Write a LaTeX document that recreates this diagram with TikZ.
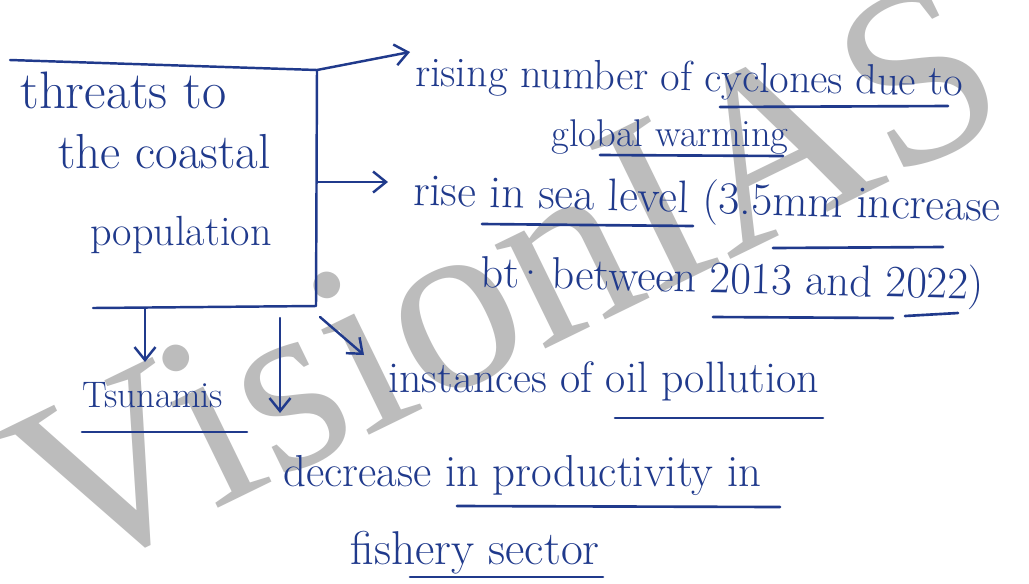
\documentclass[tikz,border=0pt]{standalone}
\usepackage{fontspec}
\newfontfamily\wmfont{Liberation Serif}
\usetikzlibrary{arrows.meta}
\definecolor{ink}{RGB}{32,58,140}
\definecolor{wmgray}{RGB}{188,188,188}
\tikzset{
  ink/.style={draw=ink, line width=1.4pt, line cap=round, line join=round},
  arr/.style={ink, -{Straight Barb[length=2.6mm,width=4.2mm,line width=1.4pt]}},
  uline/.style={draw=ink, line width=1.5pt, line cap=round},
  hw/.style={text=ink, inner sep=0pt, anchor=base west},
  fs/.style={font=\fontsize{#1}{#1}\selectfont},
}
\begin{document}
\begin{tikzpicture}[x=0.02cm,y=-0.02cm]
\useasboundingbox (0,0) rectangle (1029,583);
\fill[white] (0,0) rectangle (1029,583);
% watermark
\node[text=wmgray, inner sep=0pt, anchor=base west, rotate=26,
      font=\wmfont\fontsize{143}{143}\selectfont] (wm) at (64,584) {VisionIAS};
% box text
\node[hw, fs=30] (box1) at (20,108) {threats to};
\node[hw, fs=28] (box2) at (58,168) {the coastal};
\node[hw, fs=24] (box3) at (90,245) {population};
% box frame (open on the left)
\coordinate (tl) at (10,60);
\coordinate (tr) at (317,70);
\coordinate (br) at (316,306);
\coordinate (bl) at (93,308);
\draw[ink] (tl) -- (tr) -- (br) -- (bl);
% outcomes
\node[hw, fs=24, rotate=-1] (cyc) at (415,86) {rising number of cyclones due to};
\node[hw, fs=22] (glob) at (551,146) {global warming};
\node[hw, fs=26, rotate=-1.6] (sea) at (413,205) {rise in sea level (3.5mm increase};
\node[hw, fs=25.5, rotate=-1.4] (btw) at (480,287) {bt\kern-0.1em·\kern-0.2em\ between 2013 and 2022)};
\node[hw, fs=25] (oil) at (388,392) {instances of oil pollution};
\node[hw, fs=21] (tsu) at (82,407) {Tsunamis};
\node[hw, fs=25.5] (dec) at (283,486) {decrease in productivity in};
\node[hw, fs=27] (fish) at (350,564) {fishery sector};
% connectors
\coordinate (e1) at (410,52);
\coordinate (r2) at (318,182);
\coordinate (e2) at (388,182);
\coordinate (r3) at (320,317);
\coordinate (e3) at (364,355);
\coordinate (b1) at (145,308);
\coordinate (e4) at (145,362);
\coordinate (b2) at (280,318);
\coordinate (e5) at (280,413);
\draw[arr] (tr) -- (e1);
\draw[arr] (r2) -- (e2);
\draw[arr] (r3) -- (e3);
\draw[arr] (b1) -- (e4);
\draw[arr] (b2) -- (e5);
% underlines
\draw[uline] (720,107) -- (948,106);
\draw[uline] (600,155) -- (783,156);
\draw[uline] (482,224) -- (693,226);
\draw[uline] (773,248) -- (943,247);
\draw[uline] (713,317) -- (893,318);
\draw[uline] (905,316) -- (958,313);
\draw[uline] (615,418) -- (823,418);
\draw[uline] (82,432) -- (247,432);
\draw[uline] (457,506) -- (780,507);
\draw[uline] (410,577) -- (603,577);
\end{tikzpicture}
\end{document}
